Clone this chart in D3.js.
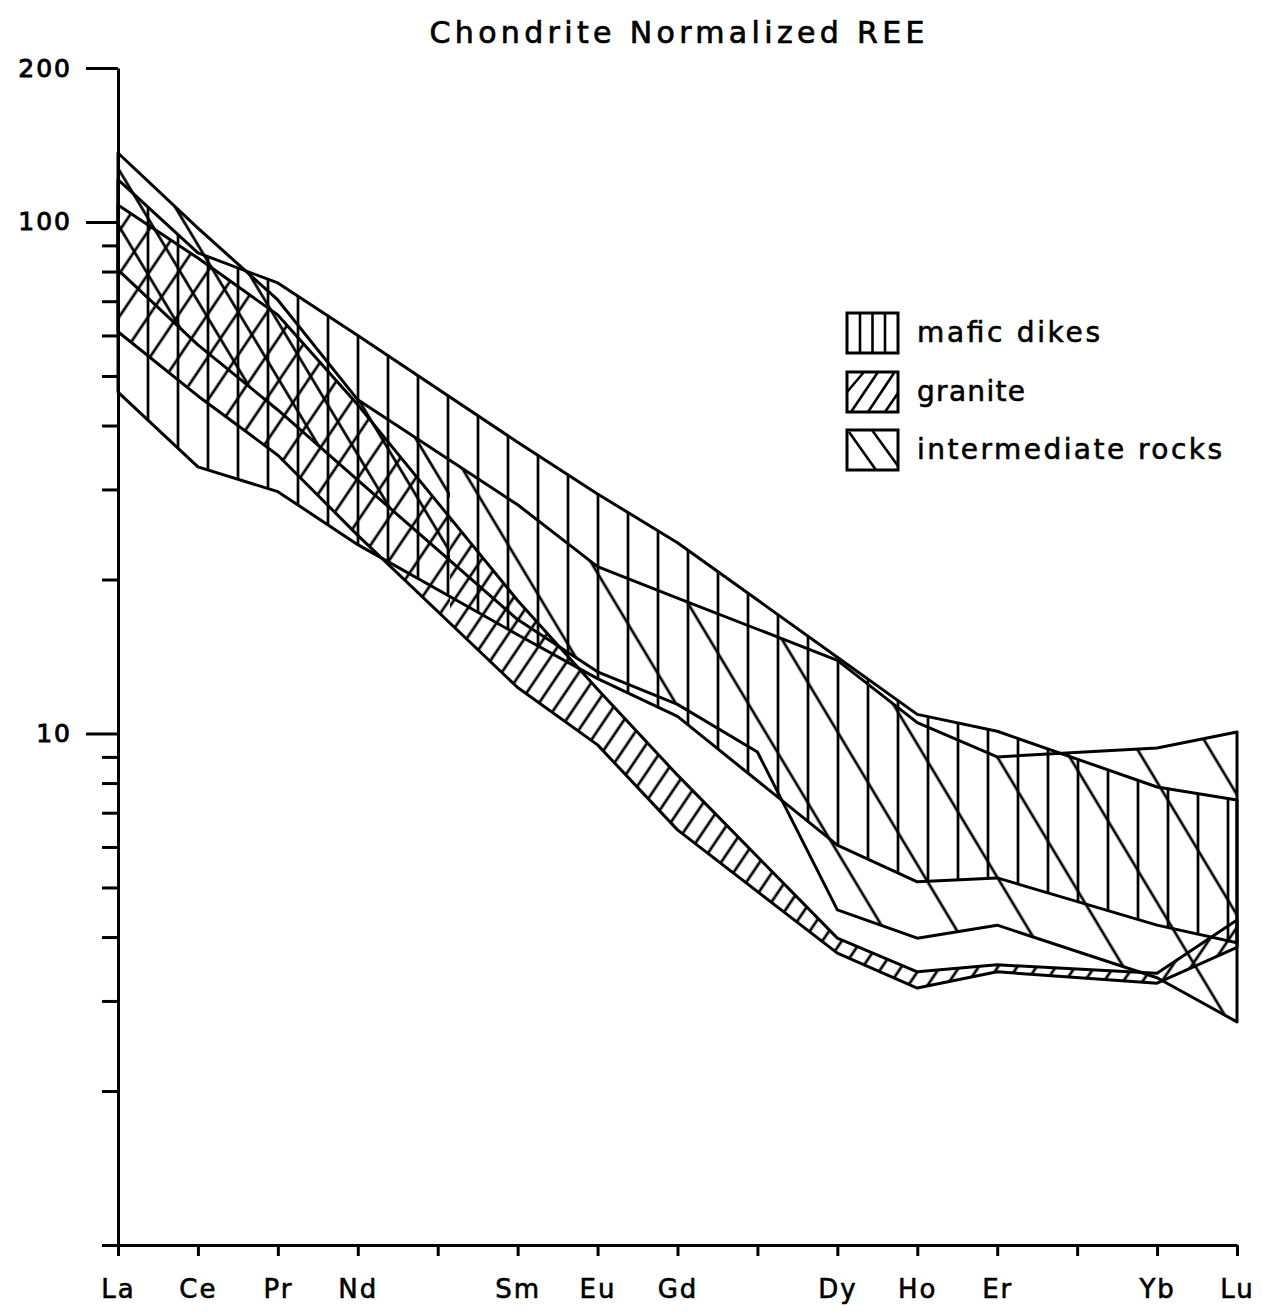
<!DOCTYPE html>
<html><head><meta charset="utf-8">
<script src="https://cdn.jsdelivr.net/npm/d3@7"></script>
<style>body{margin:0;background:#fff} svg{display:block}</style>
</head><body>
<svg id="chart" width="1263" height="1312"></svg>
<script>
// ---- data (chondrite-normalized values; null = not plotted) ----
const elements   = ["La","Ce","Pr","Nd","Pm","Sm","Eu","Gd","Tb","Dy","Ho","Er","Tm","Yb","Lu"];
const tickLabels = ["La","Ce","Pr","Nd","","Sm","Eu","Gd","","Dy","Ho","Er","","Yb","Lu"];
const yMajorTicks = [200, 100, 10];
const yMinorTicks = [1, 2, 3, 4, 5, 6, 7, 8, 9, 20, 30, 40, 50, 60, 70, 80, 90];
const legendLabels = ["mafic dikes", "granite", "intermediate rocks"];

const maficUpper   = [121, 87, 76, 60, null, 37.1, 29.4, 23.6, null, 14.1, 10.9, 10.1, null, 7.86, 7.41];
const maficLower   = [46.5, 33.2, 29.7, 23.4, null, 15.6, 12.8, 10.8, null, 6.05, 5.13, 5.22, null, 4.22, 3.9];
const graniteUpper = [108, 85, 65.8, 43.9, null, 18.2, 12.2, 8.29, null, 3.98, 3.42, 3.53, null, 3.40, 4.32];
const graniteLower = [61, 45.7, 35.0, 24.4, null, 12.3, 9.5, 6.48, null, 3.72, 3.18, 3.42, null, 3.25, 3.82];
const intermUpper  = [136.4, 97.3, 70.4, 44.9, null, 28.0, 21.2, 18.4, null, 13.9, 10.5, 9.0, null, 9.37, 10.07];
const intermLower  = [80.6, 57.5, 42.9, 31.3, null, 16.7, 13.2, 11.4, 9.2, 4.52, 3.98, 4.22, null, 3.33, 2.73];

// ---- scales ----
const x = d3.scalePoint().domain(elements).range([118, 1237]);
const y = d3.scaleLog().domain([1, 200]).range([1245, 68]);

const svg = d3.select("#chart");
const FONT = "DejaVu Sans, Verdana, sans-serif";
const defs = svg.append("defs");

function hatch(id, spacing, angle, offset) {
  const p = defs.append("pattern").attr("id", id)
    .attr("patternUnits", "userSpaceOnUse")
    .attr("x", offset || 0).attr("y", 0)
    .attr("width", spacing).attr("height", 20)
    .attr("patternTransform", `rotate(${angle})`);
  p.append("line").attr("x1", spacing / 2).attr("x2", spacing / 2)
    .attr("y1", 0).attr("y2", 20)
    .attr("stroke", "#000").attr("stroke-width", 2.7);
}
hatch("h-vert", 30, 0, 133);
hatch("h-fwd-dense", 16, 34, 0);
hatch("h-fwd-sparse", 24, 34, 0);
hatch("h-back-dense", 29, -31, 0);
hatch("h-back-sparse", 62, -31, 0);

defs.append("clipPath").attr("id", "clip-left")
  .append("rect").attr("x", 0).attr("y", 0).attr("width", 450).attr("height", 1312);
defs.append("clipPath").attr("id", "clip-right")
  .append("rect").attr("x", 450).attr("y", 0).attr("width", 813).attr("height", 1312);

function pts(arr) {
  return elements.map((e, i) => ({ e, v: arr[i] })).filter(d => d.v != null);
}
const line = d3.line().x(d => x(d.e)).y(d => y(d.v));
function polygon(up, lo) {
  return line(pts(up).concat(pts(lo).reverse())) + "Z";
}

const bands = [
  { up: maficUpper, lo: maficLower, fills: [["h-vert", null]] },
  { up: graniteUpper, lo: graniteLower, fills: [["h-fwd-sparse", "clip-left"], ["h-fwd-dense", "clip-right"]] },
  { up: intermUpper, lo: intermLower, fills: [["h-back-dense", "clip-left"], ["h-back-sparse", "clip-right"]] }
];

const gBands = svg.append("g");
bands.forEach(b => {
  b.fills.forEach(([pat, clip]) => {
    const p = gBands.append("path").attr("d", polygon(b.up, b.lo))
      .attr("fill", `url(#${pat})`).attr("stroke", "none");
    if (clip) p.attr("clip-path", `url(#${clip})`);
  });
});
bands.forEach(b => {
  gBands.append("path").attr("d", polygon(b.up, b.lo))
    .attr("fill", "none").attr("stroke", "#000").attr("stroke-width", 3)
    .attr("stroke-linejoin", "round");
});

// ---- axes ----
const yMajor = svg.append("g").attr("transform", "translate(118,0)")
  .call(d3.axisLeft(y).tickValues(yMajorTicks).tickSize(32).tickSizeOuter(0)
    .tickPadding(14).tickFormat(d3.format("d")));
const yMinor = svg.append("g").attr("transform", "translate(118,0)")
  .call(d3.axisLeft(y).tickValues(yMinorTicks).tickSize(16).tickSizeOuter(0).tickFormat(""));
yMinor.select(".domain").remove();

const xAxis = svg.append("g").attr("transform", "translate(0,1245)")
  .call(d3.axisBottom(x).tickSize(11).tickSizeOuter(0).tickPadding(24)
    .tickFormat((d, i) => tickLabels[i]));

[yMajor, yMinor, xAxis].forEach(g => {
  g.selectAll("path.domain").attr("stroke", "#000").attr("stroke-width", 3);
  g.selectAll(".tick line").attr("stroke", "#000").attr("stroke-width", 3);
  g.selectAll(".tick text").attr("fill", "#000").attr("font-family", FONT)
    .attr("font-size", 25).attr("letter-spacing", 2)
    .attr("stroke", "#000").attr("stroke-width", 0.9);
});
xAxis.selectAll(".tick text").attr("dy", "0.71em").attr("font-size", 26).attr("stroke-width", 0.6);

// ---- title ----
svg.append("text").attr("x", 677).attr("y", 43).attr("text-anchor", "middle")
  .attr("font-family", FONT).attr("font-size", 30)
  .attr("stroke", "#000").attr("stroke-width", 0.7)
  .attr("textLength", 495).attr("lengthAdjust", "spacing")
  .text("Chondrite Normalized REE");

// ---- legend ----
const lg = svg.append("g");
const boxY = [313, 372, 430];
const textW = [183, 108, 305];
boxY.forEach((by, i) => {
  lg.append("rect").attr("x", 847).attr("y", by).attr("width", 51).attr("height", 40)
    .attr("fill", "none").attr("stroke", "#000").attr("stroke-width", 3);
  lg.append("text").attr("x", 917).attr("y", by + 29)
    .attr("font-family", FONT).attr("font-size", 28)
    .attr("stroke", "#000").attr("stroke-width", 0.6)
    .attr("textLength", textW[i]).attr("lengthAdjust", "spacing")
    .text(legendLabels[i]);
});
// legend hatch swatches
[860, 872.5, 885].forEach(xx => lg.append("line")
  .attr("x1", xx).attr("x2", xx).attr("y1", 313).attr("y2", 353)
  .attr("stroke", "#000").attr("stroke-width", 2.6));
[[847, 392, 864, 372], [851, 412, 878, 372], [868, 412, 894, 373], [885, 412, 898, 393]].forEach(s => lg.append("line")
  .attr("x1", s[0]).attr("y1", s[1]).attr("x2", s[2]).attr("y2", s[3])
  .attr("stroke", "#000").attr("stroke-width", 2.6));
[[849, 432, 876, 470], [872, 430, 898, 466]].forEach(s => lg.append("line")
  .attr("x1", s[0]).attr("y1", s[1]).attr("x2", s[2]).attr("y2", s[3])
  .attr("stroke", "#000").attr("stroke-width", 2.6));
</script>
</body></html>
